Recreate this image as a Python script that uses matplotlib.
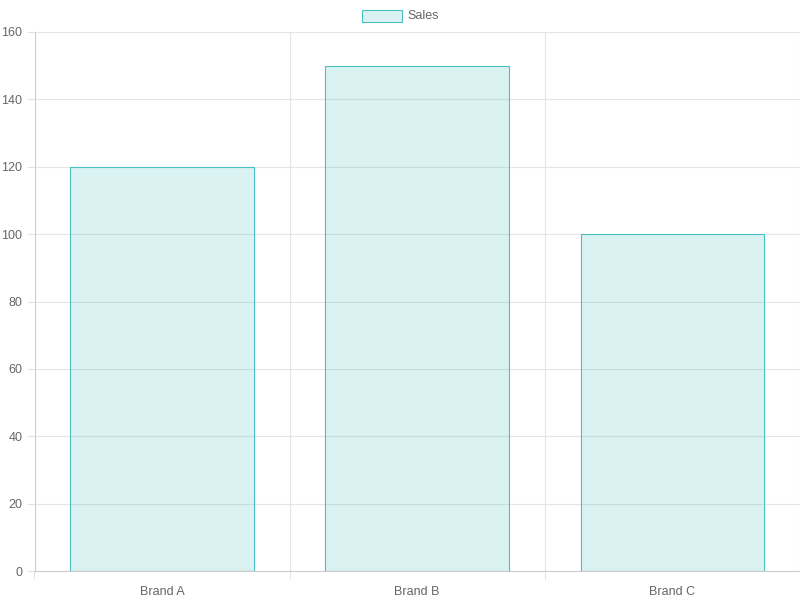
import matplotlib
matplotlib.use("Agg")
import matplotlib.pyplot as plt
from matplotlib.patches import Rectangle

brands = ["Brand A", "Brand B", "Brand C"]
sales = [120, 150, 100]
y_ticks = [0, 20, 40, 60, 80, 100, 120, 140, 160]

fill_col = (75/255, 192/255, 192/255, 0.2)
edge_col = (75/255, 192/255, 192/255, 1.0)
grid_col = "#e5e5e5"
text_col = "#666666"

plt.rcParams['font.family'] = ['Liberation Sans', 'DejaVu Sans']

fig = plt.figure(figsize=(8, 6), dpi=100)
ax = fig.add_axes([34.5/800, 29/600, (800-34.5)/800, (571-32)/600])

x = list(range(len(brands)))
ax.bar(x, sales, width=0.72, color=fill_col, edgecolor=edge_col, linewidth=0.8, zorder=3)

ax.set_xlim(-0.5, len(brands) - 0.5)
ax.set_ylim(0, 160)

ax.set_yticks(y_ticks)
ax.set_yticklabels([str(v) for v in y_ticks])
ax.set_xticks(x)
ax.set_xticklabels(brands)
ax.set_xticks([i - 0.5 for i in range(len(brands) + 1)], minor=True)

ax.tick_params(axis='y', which='major', length=5.76, width=0.8, color=grid_col,
               labelsize=9, labelcolor=text_col, pad=3)
ax.tick_params(axis='x', which='major', length=0, labelsize=9, labelcolor=text_col, pad=10.5)
ax.tick_params(axis='x', which='minor', length=5.76, width=0.8, color=grid_col)

ax.grid(True, axis='y', which='major', color=grid_col, linewidth=0.8, zorder=0)
ax.grid(True, axis='x', which='minor', color=grid_col, linewidth=0.8, zorder=0)
ax.set_axisbelow(True)

for side in ['top', 'right']:
    ax.spines[side].set_visible(False)
for side in ['left', 'bottom']:
    ax.spines[side].set_color("#cccccc")
    ax.spines[side].set_linewidth(0.8)

# legend drawn by hand, like the Chart.js one
fig.patches.append(Rectangle((362/800, 1 - 22/600), 40/800, 12/600, transform=fig.transFigure,
                             facecolor=fill_col, edgecolor=edge_col, linewidth=0.8))
fig.text(407.5/800, 1 - 16/600, "Sales", ha='left', va='center', fontsize=9, color=text_col)

fig.savefig("out.png", dpi=100)
